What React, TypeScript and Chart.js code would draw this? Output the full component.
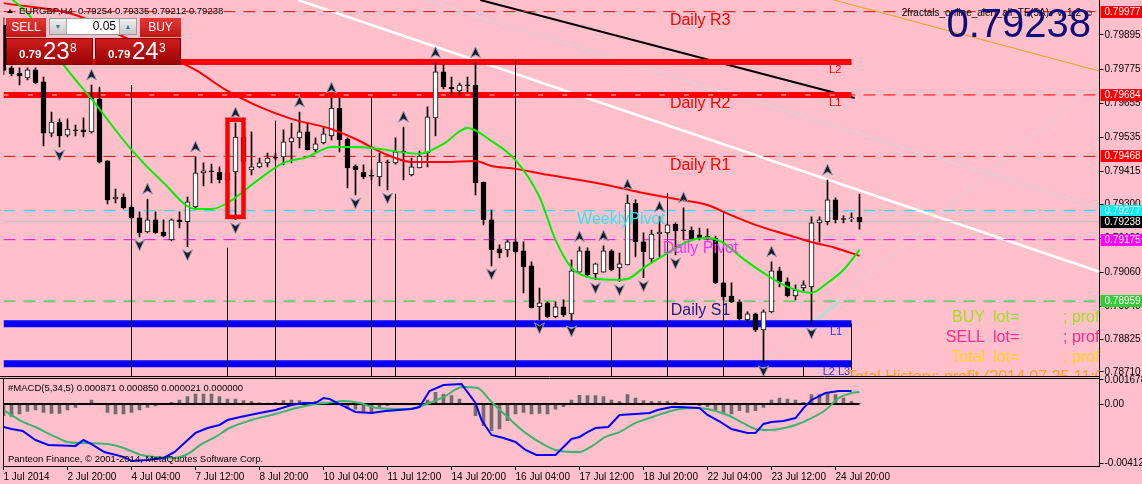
import { useEffect, useRef } from 'react';
import { Chart, registerables } from 'chart.js';

Chart.register(...registerables);

const FONT = '"Liberation Sans", Arial, sans-serif';
Chart.defaults.font.family = FONT;
Chart.defaults.font.size = 10;
Chart.defaults.color = '#000';

// EURGBP H4. Bar -1 is the half-hidden candle on the left edge, bar 106 is 25 Jul 08:00.
const firstBar = -1;

const opens = [
  0.7993,
  0.79779, 0.79761, 0.79744, 0.79772, 0.7973, 0.7955, 0.79589, 0.79543, 0.79561, 0.79561,
  0.79554, 0.7967, 0.79452, 0.79318, 0.79325, 0.7929, 0.79252, 0.79202, 0.79245, 0.79202,
  0.79174, 0.79245, 0.79238, 0.7929, 0.7941, 0.79417, 0.79413, 0.79385, 0.79413, 0.79536,
  0.7942, 0.79431, 0.79445, 0.79466, 0.79466, 0.79519, 0.79533, 0.79554, 0.79491, 0.79515,
  0.7954, 0.79638, 0.79529, 0.79434, 0.79413, 0.79399, 0.79396, 0.79448, 0.79445, 0.7948,
  0.79403, 0.79427, 0.7948, 0.79603, 0.79765, 0.79712, 0.79698, 0.79717, 0.79719, 0.79378,
  0.79245, 0.79143, 0.79139, 0.79167, 0.79136, 0.79083, 0.78939, 0.78953, 0.78904, 0.78939,
  0.78914, 0.79061, 0.79136, 0.79055, 0.79061, 0.79136, 0.79076, 0.79086, 0.79304, 0.79167,
  0.79107, 0.79195, 0.79199, 0.7923, 0.79209, 0.79209, 0.79192, 0.79178, 0.79181, 0.79023,
  0.78977, 0.78956, 0.78893, 0.78914, 0.78858, 0.78921, 0.79065, 0.79027, 0.78977, 0.79005,
  0.79009, 0.79234, 0.79238, 0.79315, 0.79248, 0.79248, 0.79254,
];
const highs = [
  0.79955,
  0.79786, 0.79779, 0.79779, 0.79779, 0.79747, 0.79624, 0.796, 0.796, 0.79578, 0.79604,
  0.79719, 0.79712, 0.79452, 0.79353, 0.79336, 0.79294, 0.79273, 0.79318, 0.79273, 0.79245,
  0.79248, 0.79273, 0.79325, 0.79466, 0.79445, 0.79441, 0.79431, 0.79405, 0.79585, 0.7956,
  0.79554, 0.79462, 0.7948, 0.7948, 0.79561, 0.79585, 0.79624, 0.79585, 0.79533, 0.79568,
  0.79673, 0.79673, 0.79533, 0.79438, 0.79438, 0.7942, 0.7948, 0.79455, 0.79533, 0.79571,
  0.79462, 0.79487, 0.79642, 0.79797, 0.7979, 0.79747, 0.79726, 0.79747, 0.79797, 0.79378,
  0.7928, 0.79157, 0.79174, 0.79178, 0.79167, 0.79097, 0.79005, 0.78956, 0.78956, 0.78963,
  0.79104, 0.7915, 0.79146, 0.79093, 0.79153, 0.79139, 0.79128, 0.79332, 0.79315, 0.79199,
  0.79209, 0.79255, 0.7923, 0.79234, 0.79287, 0.7922, 0.79216, 0.79213, 0.79188, 0.79027,
  0.79023, 0.78963, 0.78921, 0.78917, 0.78928, 0.79097, 0.79079, 0.79041, 0.79016, 0.7903,
  0.79255, 0.79255, 0.79385, 0.79322, 0.79259, 0.79269, 0.79335,
];
const lows = [
  0.79755,
  0.79751, 0.79719, 0.79737, 0.79723, 0.79505, 0.79536, 0.79501, 0.79536, 0.7954, 0.79536,
  0.7955, 0.79445, 0.79301, 0.79304, 0.79283, 0.79248, 0.79185, 0.79199, 0.79198, 0.79185,
  0.79171, 0.79216, 0.7915, 0.79287, 0.79364, 0.79375, 0.79375, 0.7934, 0.79245, 0.7944,
  0.79403, 0.79427, 0.79431, 0.79455, 0.79438, 0.79445, 0.79498, 0.79491, 0.79484, 0.79512,
  0.79526, 0.79484, 0.79357, 0.79332, 0.79389, 0.79385, 0.79364, 0.7935, 0.79441, 0.79385,
  0.79399, 0.79427, 0.79431, 0.7954, 0.79705, 0.79684, 0.79684, 0.79695, 0.79332, 0.79227,
  0.79083, 0.79111, 0.79114, 0.79128, 0.78988, 0.78935, 0.78893, 0.789, 0.789, 0.78904,
  0.78882, 0.79061, 0.79048, 0.79034, 0.79061, 0.79065, 0.79027, 0.79086, 0.79114, 0.79041,
  0.79093, 0.79114, 0.79195, 0.79121, 0.79174, 0.79174, 0.79174, 0.79174, 0.7902, 0.78963,
  0.78953, 0.78893, 0.78886, 0.78851, 0.78742, 0.78917, 0.79009, 0.78974, 0.78963, 0.78991,
  0.78875, 0.79167, 0.79227, 0.79234, 0.79234, 0.79238, 0.79212,
];
const closes = [
  0.7977,
  0.79758, 0.79751, 0.79772, 0.79726, 0.7955, 0.79589, 0.7954, 0.79564, 0.79558, 0.79554,
  0.79673, 0.79448, 0.79315, 0.79325, 0.79287, 0.79252, 0.79199, 0.79245, 0.79199, 0.79188,
  0.79245, 0.79238, 0.79308, 0.7941, 0.79417, 0.79413, 0.79385, 0.7941, 0.79536, 0.7945,
  0.79431, 0.79445, 0.79462, 0.79462, 0.79519, 0.79533, 0.79554, 0.79491, 0.79512, 0.79547,
  0.79638, 0.79526, 0.79427, 0.7942, 0.79396, 0.79398, 0.79448, 0.79445, 0.79484, 0.79487,
  0.79431, 0.79469, 0.79607, 0.79765, 0.79712, 0.79705, 0.79719, 0.79716, 0.79375, 0.79245,
  0.79139, 0.79128, 0.79167, 0.79132, 0.79079, 0.78935, 0.78953, 0.78904, 0.78939, 0.78911,
  0.79065, 0.79136, 0.79051, 0.7909, 0.79136, 0.79069, 0.7909, 0.79304, 0.79167, 0.79132,
  0.79195, 0.79202, 0.79227, 0.79206, 0.79206, 0.79178, 0.79178, 0.79188, 0.79023, 0.78974,
  0.78956, 0.78896, 0.78914, 0.78858, 0.78921, 0.79065, 0.79027, 0.78977, 0.78998, 0.79016,
  0.79234, 0.79245, 0.79315, 0.79245, 0.79246, 0.79252, 0.79238,
];

// moving averages: [bar, price]
const fastMa = [
  [0, 0.80022], [2, 0.79972], [4, 0.79891], [7, 0.79772], [10, 0.7967], [15, 0.79491],
  [19, 0.79375], [23, 0.79283], [25, 0.79283], [27, 0.79304], [31, 0.79389], [34, 0.79445],
  [37, 0.79466], [40, 0.79501], [43, 0.79501], [46, 0.79494], [51, 0.79477], [54, 0.79512],
  [57, 0.79568], [60, 0.79522], [63, 0.79455], [66, 0.79325], [68, 0.79174], [70, 0.79076],
  [72, 0.79044], [75, 0.79034], [77, 0.79037], [79, 0.79076], [82, 0.79128], [85, 0.79174],
  [87, 0.79181], [89, 0.79164], [91, 0.79118], [94, 0.79058], [97, 0.79009], [100, 0.78988],
  [102, 0.79023], [104, 0.79069], [106, 0.79139],
];
const slowMa = [
  [-1, 0.80007], [8, 0.79965], [13, 0.79902], [17, 0.79849], [21, 0.798], [23, 0.79772],
  [27, 0.79698], [31, 0.79642], [35, 0.796], [40, 0.79564], [43, 0.79529], [47, 0.79473],
  [50, 0.79448], [54, 0.79448], [58, 0.79452], [60, 0.79434], [63, 0.79424], [67, 0.79403],
  [71, 0.79385], [75, 0.79364], [79, 0.79339], [83, 0.79318], [87, 0.79297], [89, 0.79273],
  [93, 0.79227], [97, 0.79192], [100, 0.79167], [103, 0.79146], [106, 0.79118],
];

// #MACD(5,34,5)
const macdHist = [
  -0.00081,
  -0.00085, -0.00069, -0.00051, -0.00041, -0.00058, -0.00065, -0.00065, -0.00041, -0.00023, -0.00005,
  0.00028, -0.00005, -0.00058, -0.00069, -0.00069, -0.00058, -0.00041, -0.00023, -0.00014, -0.00002,
  0.00012, 0.00028, 0.00051, 0.00069, 0.00069, 0.00069, 0.00051, 0.00035, 0.00035, 0.00023,
  0.00018, 0.00009, 0.00007, 0.00012, 0.00023, 0.00028, 0.00023, 0.00012, 0.00018, 0.00002,
  0.00002, -0.00002, -0.00023, -0.00035, -0.00058, -0.00058, -0.00023, -0.00012, 0.00005, 0.00005,
  0.00005, 0.00002, 0.00028, 0.00081, 0.00069, 0.00058, 0.00035, 0.00002, -0.00081, -0.0015,
  -0.00184, -0.00173, -0.00115, -0.00069, -0.00058, -0.00069, -0.00065, -0.00069, -0.00035, -0.00018,
  0.00028, 0.0006, 0.00058, 0.00058, 0.00051, 0.00028, 0.00018, 0.00065, 0.00041, 0.00023,
  0.00018, 0.00018, 0.00018, 0.00012, 0.00007, 0, -0.00012, -0.00018, -0.00041, -0.00058,
  -0.00069, -0.00046, -0.00058, -0.00046, -0.00023, 0.00028, 0.00041, 0.00035, 0.00028, 0.00012,
  0.00065, 0.00065, 0.00081, 0.00065, 0.00041, 0.00018, 0.00005,
];
const macdMain = [
  [-1, -0.00159], [0, -0.00173], [1.4, -0.00187], [3, -0.00249], [4.6, -0.00283], [8, -0.0029],
  [9, -0.00249], [10, -0.00277], [11.6, -0.00332], [14, -0.00366], [15, -0.00394], [17, -0.00387],
  [19, -0.00373], [20.4, -0.00332], [21.75, -0.00263], [23, -0.002], [24.5, -0.00166], [26, -0.00145],
  [27, -0.00111], [28.6, -0.0009], [31, -0.00062], [33, -0.00041], [35, -0.00007], [36.5, 0.00007],
  [38, 0.00007], [39, 0.00041], [39.75, 0.00035], [41, 0], [43, -0.00055], [45, -0.00062],
  [46.75, -0.00048], [50, -0.00035], [51, -0.00021], [52.25, 0.0009], [54, 0.00131], [56.25, 0.00138],
  [58, 0.00007], [58.75, -0.00111], [60, -0.00214], [61.5, -0.00235], [63, -0.00263], [64.25, -0.00318],
  [65.6, -0.00353], [68, -0.00353], [70, -0.00242], [71, -0.00228], [72, -0.00194], [73, -0.00166],
  [74.6, -0.00159], [76, -0.00076], [78, -0.00069], [79.75, -0.00062], [80.75, -0.00041], [82.5, -0.00021],
  [83.5, -0.00021], [86, -0.00028], [87, -0.00076], [88.6, -0.00124], [90, -0.00173], [92, -0.002],
  [93, -0.002], [94, -0.00138], [95, -0.00124], [96.5, -0.00118], [98, -0.00097], [99, -0.00028],
  [100, 0.00028], [101.75, 0.00076], [103.4, 0.0009], [105, 0.0009],
];
const macdSignal = [
  [-1, -0.00041], [1, -0.00111], [3.25, -0.00166], [5.5, -0.00228], [7, -0.00263], [8.75, -0.0027],
  [12, -0.00277], [14, -0.00304], [16.25, -0.00353], [18, -0.00366], [20.4, -0.00373], [22.25, -0.00339],
  [23.6, -0.00283], [25.5, -0.00228], [27.25, -0.00166], [30, -0.00111], [33, -0.00069], [35.6, -0.00028],
  [38, 0], [39.4, 0.00007], [41.6, 0.00021], [43.5, 0.00007], [45.75, -0.00028], [49.5, -0.00035],
  [52.25, 0.00007], [54, 0.00048], [56.4, 0.00118], [58.25, 0.00111], [60, 0.00014], [62, -0.0009],
  [64.25, -0.002], [66.6, -0.00283], [68, -0.00318], [70, -0.00332], [71, -0.00332], [72.4, -0.00297],
  [74.25, -0.00228], [76, -0.00194], [78, -0.00131], [79.75, -0.00097], [81.6, -0.00062], [83.5, -0.00035],
  [85.4, -0.00028], [87, -0.00035], [89.5, -0.00076], [91.4, -0.00131], [93, -0.00173], [94.6, -0.0018],
  [96, -0.00173], [98, -0.00145], [100, -0.00097], [101.75, -0.00041], [103.4, 0.00041], [105, 0.00076],
  [106, 0.00083],
];

const tickBars = [-1, 7, 15, 23, 31, 39, 47, 55, 63, 71, 79, 87, 95, 103];
const tickLabels = [
  '1 Jul 2014', '2 Jul 20:00', '4 Jul 04:00', '7 Jul 12:00', '8 Jul 20:00', '10 Jul 04:00',
  '11 Jul 12:00', '14 Jul 20:00', '16 Jul 04:00', '17 Jul 12:00', '18 Jul 20:00', '22 Jul 04:00',
  '23 Jul 12:00', '24 Jul 20:00',
];
const priceTicks = [0.79895, 0.79775, 0.79655, 0.79535, 0.79415, 0.793, 0.7918, 0.7906, 0.7894, 0.78825, 0.7871];
const macdTicks = [0.001678, 0, -0.004129];
const macdTickLabels = ['0.001678', '0.00', '-0.004129'];

// pivot levels
const dailyR3 = 0.79977;
const dailyR2 = 0.79684;
const dailyR1 = 0.79468;
const weeklyPivot = 0.79277;
const dailyPivot = 0.79175;
const dailyS1 = 0.78959;
const lastPrice = 0.79238;

// fractal levels (thick bands) and their end bar
const upperL2 = 0.798;
const upperL1 = 0.79684;
const lowerL1 = 0.78879;
const lowerL2 = 0.78739;
const bandEnd = 105;

// fractal vertical markers: [bar, top price]
const fractalMarks = [
  [15, 0.79719], [27, 0.79146], [33, 0.79593], [45, 0.79677], [48, 0.79336], [63, 0.79804],
  [75, 0.78882], [82, 0.79339], [89, 0.79276], [99, 0.78742], [105, 0.78879],
];
const upFractals = [10, 17, 23, 28, 36, 40, 49, 53, 58, 71, 74, 77, 81, 84, 95, 102];
const downFractals = [6, 16, 22, 28, 43, 47, 60, 66, 70, 73, 76, 79, 83, 94, 100];

// trend lines: [bar, price] ends
const whiteTrend = [[35.8, 0.80018], [136, 0.79062]];
const blackTrend = [[58.6, 0.80018], [105.4, 0.79673]];
const greyTrendDown = [[51.7, 0.80018], [136, 0.79287]];
const greyTrendUp = [[93.9, 0.78742], [136, 0.79737]];
const greyTrendStub = [[99.8, 0.78875], [103.2, 0.78953]];
const orangeTrend = [[102.8, 0.80018], [136, 0.79768]];

// outside bar box
const signalBox = { from: 27, to: 29, top: 0.79597, bottom: 0.79255 };

const barMin = -1;
const barMax = 136;
const priceMin = 0.78692;
const priceMax = 0.80018;
const macdMin = -0.00429;
const macdMax = 0.00187;

const pivotLabels = [
  { text: 'Daily R3', bar: 82.3, price: dailyR3, color: '#ff0000' },
  { text: 'Daily R2', bar: 82.3, price: dailyR2, color: '#ff0000' },
  { text: 'Daily R1', bar: 82.3, price: dailyR1, color: '#ff0000' },
  { text: 'WeeklyPivot', bar: 70.7, price: weeklyPivot, color: '#30e4f4' },
  { text: 'Daily Pivot', bar: 81.4, price: dailyPivot, color: '#ff30ff' },
  { text: 'Daily S1', bar: 82.4, price: dailyS1, color: '#1a1a8a' },
];
const bandLabels = [
  { text: 'L2', bar: 102.2, price: upperL2, color: '#ff0000' },
  { text: 'L1', bar: 102.2, price: upperL1, color: '#ff0000' },
  { text: 'L1', bar: 102.3, price: lowerL1, color: '#2a2aff' },
  { text: 'L2 L3', bar: 101.4, price: lowerL2, color: '#2a2aff' },
];
const priceTags = [
  { value: dailyR3, bg: '#ff0000' },
  { value: dailyR2, bg: '#ff0000' },
  { value: dailyR1, bg: '#ff0000' },
  { value: weeklyPivot, bg: '#00f0ff' },
  { value: lastPrice, bg: '#000000' },
  { value: dailyPivot, bg: '#ff00ff' },
  { value: dailyS1, bg: '#33cc33' },
];

const pts = (list: number[][]) => list.map(([x, y]) => ({ x, y }));
const flat = (v: number, from = barMin, to = barMax) => [{ x: from, y: v }, { x: to, y: v }];

function line(data: any[], color: string, width: number, order: number, extra: any = {}) {
  return {
    type: 'line', data, borderColor: color, borderWidth: width, pointRadius: 0,
    fill: false, yAxisID: 'y', order, borderCapStyle: 'butt', ...extra,
  };
}

function drawFractal(ctx: CanvasRenderingContext2D, x: number, y: number, up: boolean) {
  const s = up ? 1 : -1;
  ctx.beginPath();
  ctx.moveTo(x, y - 6 * s);
  ctx.lineTo(x + 5, y + 5 * s);
  ctx.lineTo(x, y + 2 * s);
  ctx.lineTo(x - 5, y + 5 * s);
  ctx.closePath();
  ctx.fillStyle = '#1c1c26';
  ctx.fill();
  ctx.strokeStyle = '#8c9bb4';
  ctx.lineWidth = 1;
  ctx.stroke();
}

const overlayPlugin = {
  id: 'mt4Overlay',
  afterDatasetsDraw(chart: any) {
    const { ctx } = chart;
    const xs = chart.scales.x;
    const ys = chart.scales.y;
    ctx.save();
    ctx.beginPath();
    ctx.rect(chart.chartArea.left, 0, chart.chartArea.right - chart.chartArea.left, ys.bottom - 1);
    ctx.clip();
    const bx0 = xs.getPixelForValue(signalBox.from);
    const bx1 = xs.getPixelForValue(signalBox.to);
    const by0 = ys.getPixelForValue(signalBox.top);
    const by1 = ys.getPixelForValue(signalBox.bottom);
    ctx.strokeStyle = '#ff0000';
    ctx.lineWidth = 4.5;
    ctx.strokeRect(bx0, by0, bx1 - bx0, by1 - by0);
    upFractals.forEach((k) =>
      drawFractal(ctx, xs.getPixelForValue(k), ys.getPixelForValue(highs[k - firstBar]) - 10, true));
    downFractals.forEach((k) =>
      drawFractal(ctx, xs.getPixelForValue(k), ys.getPixelForValue(lows[k - firstBar]) + 8, false));
    ctx.restore();
  },
  afterDraw(chart: any) {
    const { ctx, chartArea } = chart;
    const xs = chart.scales.x;
    const ys = chart.scales.y;
    const y2 = chart.scales.y2;
    const { left, right } = chartArea;
    ctx.save();

    // panel frames
    ctx.strokeStyle = '#000';
    ctx.lineWidth = 1;
    ctx.beginPath();
    ctx.moveTo(0, ys.bottom - 0.5);
    ctx.lineTo(right, ys.bottom - 0.5);
    ctx.moveTo(0, y2.top + 1.5);
    ctx.lineTo(right, y2.top + 1.5);
    ctx.moveTo(left, y2.top + 1.5);
    ctx.lineTo(left, y2.bottom);
    ctx.stroke();

    // price tags on the axis
    ctx.font = '10px ' + FONT;
    ctx.textBaseline = 'middle';
    ctx.textAlign = 'left';
    priceTags.forEach((t) => {
      const py = Math.round(ys.getPixelForValue(t.value));
      ctx.fillStyle = t.bg;
      ctx.fillRect(right + 1, py - 6, 42, 12);
      ctx.fillStyle = '#fff';
      ctx.fillText(t.value.toFixed(5), right + 5, py + 0.5);
    });

    // texts inside the price window
    ctx.save();
    ctx.beginPath();
    ctx.rect(left, 0, right - left, ys.bottom - 1);
    ctx.clip();
    ctx.textBaseline = 'alphabetic';

    ctx.font = '10px ' + FONT;
    ctx.fillStyle = '#000';
    ctx.textAlign = 'right';
    ctx.fillText('2fractals_online_alert_all_TF(5A)   v. 1.2 \u263A', 1094, 16);
    ctx.font = '40px ' + FONT;
    ctx.fillStyle = '#0c0c7c';
    ctx.fillText(lastPrice.toFixed(5), 1091, 37);

    ctx.textAlign = 'left';
    ctx.font = '16px ' + FONT;
    pivotLabels.forEach((l) => {
      ctx.fillStyle = l.color;
      ctx.fillText(l.text, xs.getPixelForValue(l.bar), ys.getPixelForValue(l.price) + 13.5);
    });
    ctx.font = '11px ' + FONT;
    bandLabels.forEach((l) => {
      ctx.fillStyle = l.color;
      ctx.fillText(l.text, xs.getPixelForValue(l.bar), ys.getPixelForValue(l.price) + 11);
    });

    ctx.font = '16px ' + FONT;
    const info = [
      { name: 'BUY', color: '#9ee01e', base: 322 },
      { name: 'SELL', color: '#ff2a8c', base: 342 },
      { name: 'Total', color: '#ffd21e', base: 362 },
    ];
    info.forEach((r) => {
      ctx.fillStyle = r.color;
      ctx.textAlign = 'right';
      ctx.fillText(r.name, 985, r.base);
      ctx.textAlign = 'left';
      ctx.fillText('lot=', 993, r.base);
      ctx.fillText('; prof', 1063, r.base);
    });
    ctx.fillStyle = '#ffa21e';
    ctx.fillText('Total History: profit (2014.07.25 11:00)', 847, 382);

    // chart title
    ctx.fillStyle = '#000';
    ctx.beginPath();
    ctx.moveTo(7, 13);
    ctx.lineTo(13, 13);
    ctx.lineTo(10, 9);
    ctx.closePath();
    ctx.fill();
    ctx.font = '9.5px ' + FONT;
    ctx.fillText('EURGBP,H4  0.79254 0.79335 0.79212 0.79238', 19, 14);
    ctx.restore();

    // MACD window texts
    ctx.font = '9.5px ' + FONT;
    ctx.fillStyle = '#000';
    ctx.textAlign = 'left';
    ctx.textBaseline = 'alphabetic';
    ctx.fillText('#MACD(5,34,5) 0.000871 0.000850 0.000021 0.000000', 8, y2.top + 14);
    ctx.fillText('Panteon Finance, \u00A9 2001-2014, MetaQuotes Software Corp.', 8, y2.bottom - 4);
    ctx.restore();
  },
};

function buildConfig(): any {
  const bars = opens.map((o, i) => ({ k: firstBar + i, o, h: highs[i], l: lows[i], c: closes[i] }));
  const datasets: any[] = [
    // trend lines (background)
    line(pts(greyTrendDown), '#d6d6d6', 1, 30),
    line(pts(greyTrendUp), '#d6d6d6', 1, 30),
    line(pts(greyTrendStub), '#d0d0d0', 5, 30, { borderCapStyle: 'round' }),
    line(pts(orangeTrend), '#e8a317', 1, 30),
    line(pts(whiteTrend), '#ffffff', 2.5, 29),
    line(pts(blackTrend), '#000000', 2, 29),
    // pivot levels
    line(flat(dailyR3), '#ff0000', 1, 28, { borderDash: [12, 8] }),
    line(flat(dailyR2), '#ff0000', 1, 28, { borderDash: [12, 8] }),
    line(flat(dailyR1), '#ff0000', 1, 28, { borderDash: [12, 8] }),
    line(flat(weeklyPivot), '#00e8ff', 1, 28, { borderDash: [12, 8] }),
    line(flat(lastPrice), '#c0c0c0', 1, 28),
    line(flat(dailyPivot), '#ff00ff', 1, 28, { borderDash: [12, 8] }),
    line(flat(dailyS1), '#22cc22', 1, 28, { borderDash: [12, 8] }),
    // fractal bands
    line(flat(upperL2, barMin, bandEnd), '#ff0000', 6, 26),
    line(flat(upperL1, barMin, bandEnd), '#ff0000', 6, 26),
    line(flat(upperL1, barMin, bandEnd), '#ffd6d6', 1, 25, { borderDash: [5, 19.3] }),
    line(flat(lowerL1, barMin, bandEnd), '#0000ff', 7, 26),
    line(flat(lowerL2, barMin, bandEnd), '#0000ff', 7, 26),
    ...fractalMarks.map(([k, top]) => line([{ x: k, y: top }, { x: k, y: priceMin }], '#000', 1, 24)),
    // candles
    {
      type: 'bar', data: bars.map((b) => ({ x: b.k, y: [b.l, b.h] })), backgroundColor: '#000',
      barThickness: 1, grouped: false, yAxisID: 'y', order: 14,
    },
    {
      type: 'bar', data: bars.map((b) => ({ x: b.k, y: [b.o, b.c] })),
      backgroundColor: bars.map((b) => (b.c > b.o ? '#ffffff' : '#000000')),
      borderColor: '#000', borderWidth: 1, borderSkipped: false, barThickness: 5, minBarLength: 1,
      grouped: false, yAxisID: 'y', order: 13,
    },
    // moving averages
    line(pts(slowMa), '#ff0000', 2, 6, { tension: 0.4, cubicInterpolationMode: 'monotone' }),
    line(pts(fastMa), '#00ee00', 2, 5, { tension: 0.4, cubicInterpolationMode: 'monotone' }),
    // MACD window
    {
      type: 'bar', data: macdHist.map((v, i) => ({ x: firstBar + i, y: v })), backgroundColor: '#6e6e6e',
      barThickness: 3, grouped: false, yAxisID: 'y2', order: 12,
    },
    line(flat(0, barMin, 106), '#000', 2, 11, { yAxisID: 'y2' }),
    line(pts(macdSignal), '#3cb371', 2, 10, { yAxisID: 'y2', tension: 0.3, cubicInterpolationMode: 'monotone' }),
    line(pts(macdMain), '#0000ff', 2, 9, { yAxisID: 'y2' }),
  ];

  const yAxis = (min: number, max: number, weight: number, ticks: number[], cb: any) => ({
    type: 'linear', position: 'right', stack: 'panes', stackWeight: weight, min, max, offset: false,
    grid: { drawOnChartArea: false, drawTicks: true, tickLength: 4, color: '#000' },
    border: { display: true, color: '#000' },
    ticks: { padding: 1, autoSkip: false, color: '#000', font: { size: 10 }, callback: cb },
    afterBuildTicks: (s: any) => { s.ticks = ticks.map((value) => ({ value })); },
    afterFit: (s: any) => {
      s.width = 42.5;
      s.paddingTop = 0;
      s.paddingBottom = 0;
    },
  });

  return {
    type: 'line',
    data: { datasets },
    options: {
      animation: false,
      responsive: false,
      maintainAspectRatio: false,
      layout: { padding: { left: 3.5, top: 0, right: 0, bottom: 0 } },
      plugins: { legend: { display: false }, tooltip: { enabled: false } },
      scales: {
        x: {
          type: 'linear', min: barMin, max: barMax, offset: false, position: 'bottom',
          grid: { drawOnChartArea: false, drawTicks: true, tickLength: 4, color: '#000', offset: false },
          border: { display: true, color: '#000' },
          ticks: {
            autoSkip: false, maxRotation: 0, minRotation: 0, align: 'start', padding: 1,
            color: '#000', font: { size: 10 },
            callback: (_v: any, i: number) => tickLabels[i],
          },
          afterBuildTicks: (s: any) => { s.ticks = tickBars.map((value) => ({ value })); },
          afterFit: (s: any) => {
            s.height = 18;
            s.paddingLeft = 0;
            s.paddingRight = 0;
          },
        },
        y: yAxis(priceMin, priceMax, 377, priceTicks, (v: any) => Number(v).toFixed(5)),
        y2: yAxis(macdMin, macdMax, 89, macdTicks, (_v: any, i: number) => macdTickLabels[i]),
      },
    },
    plugins: [overlayPlugin],
  };
}

function PriceBox({ left, width, big, small }: { left: number; width: number; big: string; small: string }) {
  return (
    <div style={{
      position: 'absolute', left, top: 38, width, height: 27, boxSizing: 'border-box',
      background: 'linear-gradient(#cc1c1c, #9c0404)', border: '1px solid #7e0000', color: '#fff',
      fontFamily: FONT,
    }}>
      <span style={{ position: 'absolute', left: 12, top: 10, fontSize: 11.5, fontWeight: 'bold', lineHeight: 1 }}>0.79</span>
      <span style={{ position: 'absolute', left: 36, top: 0, fontSize: 24, lineHeight: 1 }}>{big}</span>
      <span style={{ position: 'absolute', left: 63, top: 3, fontSize: 12, lineHeight: 1 }}>{small}</span>
    </div>
  );
}

function TradePanel() {
  const head: any = {
    position: 'absolute', top: 18, height: 20, boxSizing: 'border-box',
    background: 'linear-gradient(#e23a36, #c31616)', borderBottom: '1px solid #f29a9a',
    color: '#fff', fontFamily: FONT, fontSize: 12, lineHeight: '19px', textAlign: 'center',
  };
  const spin: any = {
    position: 'absolute', top: 0, width: 16, height: 15, background: 'linear-gradient(#f0f0f0, #c8c8c8)',
    color: '#4f6d9c', fontSize: 7, lineHeight: '15px', textAlign: 'center', fontFamily: FONT,
  };
  return (
    <>
      <div style={{ ...head, left: 6, width: 40 }}>SELL</div>
      <div style={{
        position: 'absolute', left: 49, top: 18, width: 88, height: 17, boxSizing: 'border-box',
        background: '#fff', border: '1px solid #9a9a9a',
      }}>
        <div style={{ ...spin, left: 0, borderRight: '1px solid #a8a8a8' }}>▼</div>
        <div style={{ position: 'absolute', right: 20, top: 0, fontSize: 12, lineHeight: '15px', color: '#000', fontFamily: FONT }}>0.05</div>
        <div style={{ ...spin, right: 0, borderLeft: '1px solid #a8a8a8' }}>▲</div>
      </div>
      <div style={{ ...head, left: 140, width: 41 }}>BUY</div>
      <PriceBox left={6} width={87} big="23" small="8" />
      <PriceBox left={95} width={86} big="24" small="3" />
    </>
  );
}

export default function App() {
  const canvasRef = useRef<HTMLCanvasElement>(null);

  useEffect(() => {
    if (!canvasRef.current) return undefined;
    const chart = new Chart(canvasRef.current, buildConfig());
    return () => chart.destroy();
  }, []);

  return (
    <div style={{ position: 'absolute', left: 0, top: 0, width: 1142, height: 484, background: '#ffc0cb', overflow: 'hidden' }}>
      <canvas ref={canvasRef} width={1142} height={484} style={{ display: 'block', width: 1142, height: 484 }} />
      <TradePanel />
    </div>
  );
}
